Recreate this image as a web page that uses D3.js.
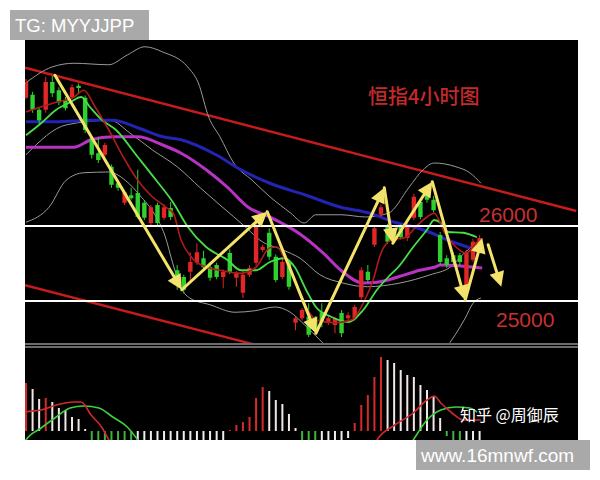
<!DOCTYPE html>
<html><head><meta charset="utf-8">
<script src="https://cdn.jsdelivr.net/npm/d3@7/dist/d3.min.js"></script>
<style>html,body{margin:0;padding:0;background:#fff}svg{display:block}</style>
</head><body>
<svg id="chart" width="600" height="480"></svg>
<script>
// ---- candle data (Hang Seng, 4h) ----
const candleOpen  = [27710,27750,27550,27550,27920,27810,27680,27720,27870,27710,27170,26970,26950,26790,26570,26310,26410,26440,26310,26040,26280,26110,26240,25410,25320,25390,25510,25570,25450,25480,25320,25640,25310,25110,25350,25510,25680,25910,25590,25320,25510,24710,24770,24790,24750,24850,24710,24680,24840,24770,24770,25050,25390,25750,26150,25990,25920,25990,25840,26110,26320,26440,26350,25880,25570,25610,25610,25110,25550,25760];
const candleHigh  = [27960,27790,27580,27990,28000,27850,27720,27890,27900,27740,27200,27190,27110,26820,26600,26480,26510,26750,26340,26280,26310,26290,26320,25480,25350,25650,25770,25670,25490,25510,25420,25690,25400,25410,25480,26080,25750,25970,25620,25560,25540,24790,24910,24970,24800,24970,24800,24790,24880,24850,24950,25450,25480,26010,26290,26030,25950,26020,26050,26430,26350,26480,26400,25920,25610,25650,25640,25680,25830,25880];
const candleLow   = [27690,27510,27350,27510,27720,27610,27540,27690,27760,27240,26900,26840,26920,26510,26470,26280,26350,26100,26080,26010,26010,26080,26080,25150,25100,25240,25480,25400,25270,25290,25170,25360,25190,25040,25320,25470,25650,25550,25250,25290,25150,24610,24740,24520,24560,24650,24680,24570,24520,24740,24740,25020,25250,25720,26120,25760,25780,25820,25800,26080,26090,26310,26180,25480,25440,25480,25470,25080,25520,25720];
const candleClose = [27920,27550,27410,27920,27770,27650,27570,27850,27840,27280,26950,26880,27080,26550,26510,26450,26370,26120,26110,26250,26040,26250,26120,25280,25150,25520,25650,25450,25310,25320,25390,25390,25370,25350,25440,25990,25720,25590,25280,25520,25190,24770,24880,24550,24610,24720,24770,24770,24570,24810,24920,25410,25280,25970,26250,25790,25810,25850,25990,26390,26120,26350,26210,25520,25480,25520,25520,25640,25790,25840];

// ---- moving averages: [candle index, price] ----
const ma5Line  = [[0,27520],[2.3,27590],[4.6,27650],[7.3,27720],[8.8,27810],[10.5,27590],[12.6,27280],[14.8,26920],[17,26610],[19.2,26390],[21.3,26250],[22.4,26170],[23.6,25810],[25.1,25590],[27.4,25450],[29.5,25410],[32.7,25370],[35,25450],[37.1,25710],[38.2,25720],[39.2,25590],[40.9,25280],[42.6,24920],[44.1,24750],[46.9,24710],[49.6,24750],[51.3,24970],[52.8,25280],[54,25640],[55.5,25810],[57.8,25850],[59.3,25990],[61,26120],[62.1,26170],[63.7,25910],[65.4,25720],[66.9,25640],[68.6,25790]];
const ma10Line = [[0,27210],[2.3,27370],[4.6,27550],[6.7,27650],[8.4,27720],[9.7,27590],[11.6,27410],[13.7,27280],[17,26920],[19.8,26610],[22.4,26310],[24.6,25990],[27.4,25720],[30.6,25550],[32.7,25410],[35,25410],[37.1,25520],[39.2,25570],[40.9,25450],[42.6,25150],[44.1,24920],[46.4,24790],[49,24720],[51.3,24880],[53.4,25150],[55.1,25320],[56.6,25450],[58.9,25720],[61,25950],[62.1,26080],[63.1,26040],[64.2,25920],[66.5,25910],[68.6,25850]];
const ma60Line = [[0,27390],[4.6,27390],[9.9,27410],[13.2,27410],[17,27310],[20.8,27190],[23.6,27150],[28.9,26950],[32.7,26750],[37.1,26570],[42.6,26410],[47.9,26250],[52.3,26170],[56.1,26050],[58.9,25990],[61.6,25910],[64.2,25810],[67.5,25710]];
const ma30Line = [[0,27050],[7.3,27050],[9.9,27150],[13.2,27190],[17,27190],[20.8,27080],[23.6,26970],[27.4,26750],[30.6,26520],[33.8,26250],[37.1,26120],[41.4,25910],[45.2,25640],[47.9,25410],[51.3,25240],[53.4,25250],[56.6,25320],[59.9,25410],[62.1,25450],[63.1,25480],[69.4,25440]];
const bollUpper = [[0,27910],[3.95,28120],[7.3,28170],[12.6,28150],[15.4,28280],[18.1,28390],[20.8,28320],[24.6,28120],[26.2,27910],[27.8,27450],[29.5,27190],[31.6,26840],[34.4,26610],[37.1,26390],[40.3,26170],[42.3,26040],[44.1,26150],[47.9,26150],[51.7,26120],[55.1,26170],[58.3,26520],[60.4,26750],[62.1,26840],[65.4,26790],[67.5,26710],[69.2,26570]];
const bollMid   = [[0,26950],[6.2,27350],[12.8,27410],[15.8,27240],[19.3,27010],[23,26790],[26.5,26510],[29.5,26280],[33.6,25970],[35.6,25810],[39.1,25680],[41.7,25570],[44.7,25350],[48.2,25240],[51.9,25190],[56.9,25240],[61.5,25350],[64.5,25450],[66.8,25650],[69.1,25810]];
const bollLower = [[0,26050],[3.5,26250],[6.1,26610],[8.8,26710],[12.6,26720],[15.1,26610],[17.3,26410],[19.6,26150],[21.1,25880],[22.4,25480],[23.4,25210],[24.9,25040],[28,24950],[31.8,24850],[34.8,24870],[37.9,24920],[40.2,24850],[42.4,24680],[44.7,24480],[47,24280],[49.3,24080],[55,23900],[61.5,24080],[63.7,24350],[65.3,24550],[66.8,24770],[68,24970],[69.2,25040]];

// ---- annotations ----
const channelUpper = [[-0.15,28110],[83.7,26200]];
const channelLower = [[-0.15,25210],[83.7,23310]];
const levels = [26000, 25000];
const levelLabels = ["26000", "25000"];
const zigzag = [[4.4,28010],[23.7,25150],[36.7,26190],[44.1,24570],[54.5,26510],[55.8,25770],[61.8,26590],[66.8,25010],[69.4,25840]];
const forecastArrow = [[70.3,25750],[72.3,25190]];
const chartTitle = "恒指4小时图";

// ---- MACD ----
const macdHist = [96,84,64,66,58,46,42,28,24,4,-20,-40,-60,-80,-100,-110,-115,-112,-108,-104,-100,-96,-92,-88,-84,-80,-76,-70,-60,-45,-30,2,12,18,28,66,88,80,62,54,34,6,-20,-40,-55,-50,-42,-34,-26,-14,16,52,72,108,148,142,136,122,112,108,92,82,68,26,-10,-25,-40,-35,-28,-20];
const difLine = [[-0.5,30],[0,38],[2.3,42],[4.6,52],[7.3,58],[8.4,58],[9.9,32],[11.6,6],[12.6,-18],[14,-48],[18,-120],[30,-160],[45,-150],[50,-100],[52.3,-48],[53.4,-18],[56.1,12],[58.9,36],[61,62],[62.1,70],[63.1,56],[64.8,36],[66.5,22],[69.2,22]];
const deaLine = [[-0.5,-30],[0,-18],[2.3,6],[4.6,28],[6.7,46],[8.8,50],[11.1,46],[13.2,28],[15.4,8],[17,-18],[18.9,-58],[30,-130],[45,-130],[55,-90],[56.9,-58],[58.9,-18],[61,22],[63.1,42],[65.4,48],[67.5,46],[68.6,38]];

const topTag = "TG: MYYJJPP";
const siteTag = "www.16mnwf.com";
const watermark = "知乎 @周御辰";

// ---------------- drawing ----------------
const svg = d3.select('#chart');
const defs = svg.append('defs');
defs.append('clipPath').attr('id','clipMain').append('rect').attr('x',25).attr('y',40).attr('width',553).attr('height',303);
defs.append('clipPath').attr('id','clipMacd').append('rect').attr('x',25).attr('y',349).attr('width',553).attr('height',91);

svg.append('rect').attr('width',600).attr('height',480).attr('fill','#fff');
svg.append('rect').attr('x',25).attr('y',40).attr('width',553).attr('height',400).attr('fill','#000');

const x = d3.scaleLinear().domain([0,69]).range([26,479.6]);
const y = d3.scaleLinear().domain([25000,26000]).range([301,226]);
const ym = d3.scaleLinear().domain([0,100]).range([431,381]);

const main = svg.append('g').attr('clip-path','url(#clipMain)');
const smooth = d3.line().x(d=>x(d[0])).y(d=>y(d[1])).curve(d3.curveMonotoneX);
const straight = d3.line().x(d=>x(d[0])).y(d=>y(d[1]));

// channel lines
[channelUpper, channelLower].forEach(c => main.append('path').attr('d', straight(c))
  .attr('fill','none').attr('stroke','#c81c1c').attr('stroke-width',2.4));

// bollinger bands
[bollUpper, bollMid, bollLower].forEach(b => main.append('path').attr('d', smooth(b))
  .attr('fill','none').attr('stroke','#9a9a9a').attr('stroke-width',1));

// long MAs
main.append('path').attr('d', smooth(ma60Line)).attr('fill','none').attr('stroke','#2323b4').attr('stroke-width',3);
main.append('path').attr('d', smooth(ma30Line)).attr('fill','none').attr('stroke','#b833c4').attr('stroke-width',3);

// candles
const candles = d3.range(candleOpen.length).map(i => ({i, o:candleOpen[i], h:candleHigh[i], l:candleLow[i], c:candleClose[i]}));
const cg = main.append('g');
const col = d => d.c >= d.o ? '#e02626' : '#2fd02f';
cg.selectAll('line.w').data(candles).join('line').attr('class','w')
  .attr('x1',d=>x(d.i)).attr('x2',d=>x(d.i)).attr('y1',d=>y(d.h)).attr('y2',d=>y(d.l))
  .attr('stroke',col).attr('stroke-width',1);
cg.selectAll('rect.b').data(candles).join('rect').attr('class','b')
  .attr('x',d=>x(d.i)-2.2).attr('width',4.4)
  .attr('y',d=>y(Math.max(d.o,d.c)))
  .attr('height',d=>Math.max(1.2, Math.abs(y(d.o)-y(d.c))))
  .attr('fill',col);

// short MAs
main.append('path').attr('d', smooth(ma10Line)).attr('fill','none').attr('stroke','#46e046').attr('stroke-width',1.8);
main.append('path').attr('d', smooth(ma5Line)).attr('fill','none').attr('stroke','#b01c1c').attr('stroke-width',1.6);

// level lines
levels.forEach(v => main.append('line').attr('x1',25).attr('x2',578).attr('y1',y(v)).attr('y2',y(v))
  .attr('stroke','#ffffff').attr('stroke-width',2));

// arrows
const yellow = '#f3e36a';
function arrow(g, p0, p1) {
  const dx = p1[0]-p0[0], dy = p1[1]-p0[1], len = Math.hypot(dx,dy);
  const ux = dx/len, uy = dy/len, L = 15, Wd = 7.5;
  const bx = p1[0]-ux*L, by = p1[1]-uy*L;
  g.append('line').attr('x1',p0[0]).attr('y1',p0[1]).attr('x2',bx+ux*2).attr('y2',by+uy*2)
    .attr('stroke',yellow).attr('stroke-width',3).attr('stroke-linecap','round');
  g.append('path').attr('d',`M${p1[0]},${p1[1]}L${bx-uy*Wd},${by+ux*Wd}L${bx+uy*Wd},${by-ux*Wd}Z`).attr('fill',yellow);
}
const ag = main.append('g');
const px = d => [x(d[0]), y(d[1])];
for (let k=1; k<zigzag.length; k++) arrow(ag, px(zigzag[k-1]), px(zigzag[k]));
arrow(ag, px(forecastArrow[0]), px(forecastArrow[1]));

// texts in main panel
svg.append('text').attr('x',368).attr('y',104).text(chartTitle)
  .attr('font-family','"Noto Sans CJK SC"').attr('font-size',20).attr('font-weight',500).attr('fill','#c42a2a');
levels.forEach((v,k) => svg.append('text').attr('x', k===0 ? 479 : 496).attr('y', k===0 ? y(v)-4 : y(v)+26)
  .text(levelLabels[k]).attr('font-family','"Liberation Sans", Arial, sans-serif').attr('font-size',21).attr('fill','#c83030'));

// separator
[344,347].forEach(yy => svg.append('line').attr('x1',25).attr('x2',578).attr('y1',yy).attr('y2',yy)
  .attr('stroke','#d8d8d8').attr('stroke-width',1.2));

// MACD panel
const mg = svg.append('g').attr('clip-path','url(#clipMacd)');
const bars = macdHist.map((v,i) => ({i, v, prev: i>0 ? macdHist[i-1] : v-1}));
const barCol = d => d.v >= 0 ? (d.v >= d.prev ? '#d42a2a' : '#f2e6e6') : (d.v <= d.prev ? '#3cb43c' : '#eeeeee');
mg.selectAll('rect').data(bars).join('rect')
  .attr('x',d=>x(d.i)-1).attr('width',2)
  .attr('y',d=>ym(Math.max(0,d.v))).attr('height',d=>Math.abs(ym(d.v)-ym(0)))
  .attr('fill',barCol);
const mline = d3.line().x(d=>x(d[0])).y(d=>ym(d[1])).curve(d3.curveMonotoneX);
mg.append('path').attr('d', mline(deaLine)).attr('fill','none').attr('stroke','#3cd03c').attr('stroke-width',1.6);
mg.append('path').attr('d', mline(difLine)).attr('fill','none').attr('stroke','#d02a2a').attr('stroke-width',1.6);

svg.append('text').attr('x',460).attr('y',421).text(watermark)
  .attr('font-family','"Noto Sans CJK SC"').attr('font-size',16).attr('fill','#ffffff');

// tags
svg.append('rect').attr('x',10).attr('y',10).attr('width',139).attr('height',30).attr('fill','#a9a9a9');
svg.append('text').attr('x',15).attr('y',32).text(topTag)
  .attr('font-family','"Liberation Sans", Arial, sans-serif').attr('font-size',18.5).attr('fill','#ffffff');
svg.append('rect').attr('x',416).attr('y',440).attr('width',174).attr('height',30).attr('fill','#a9a9a9');
svg.append('text').attr('x',421).attr('y',462).text(siteTag)
  .attr('font-family','"Liberation Sans", Arial, sans-serif').attr('font-size',19).attr('fill','#ffffff');
</script>
</body></html>
